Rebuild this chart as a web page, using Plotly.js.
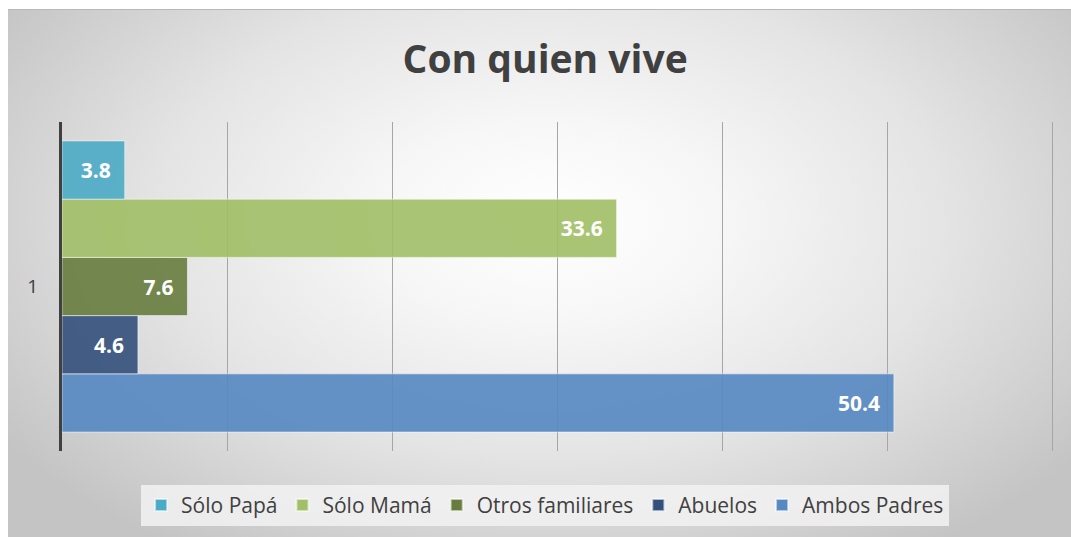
<!DOCTYPE html>
<html>
<head>
<meta charset="utf-8">
<script src="https://cdn.plot.ly/plotly-3.0.1.min.js"></script>
<style>
  html, body { margin:0; padding:0; background:#ffffff; }
  #bg { position:absolute; left:8px; top:9px; width:1063px; height:528px;
        background: radial-gradient(ellipse 62% 75% at 51% 40%, #ffffff 0%, #f7f7f7 25%, #e4e4e4 60%, #c4c4c4 100%);
        border-top:1px solid #b8b8b8; box-sizing:border-box; }
  #chart { position:absolute; left:0; top:0; width:1071px; height:537px; }
</style>
</head>
<body>
<div id="bg"></div>
<div id="chart"></div>
<script>
// Data (legend order)
const categories = ["1"];
const seriesNames = ["Sólo Papá", "Sólo Mamá", "Otros familiares", "Abuelos", "Ambos Padres"];
const seriesValues = [3.8, 33.6, 7.6, 4.6, 50.4];
const seriesColors = ["#4BABC5", "#A0BF66", "#677D3E", "#33507C", "#5688C2"];

// Plotly puts the first trace at the bottom for horizontal grouped bars,
// so add traces in reverse and reverse the legend order.
const traces = [];
for (let i = seriesNames.length - 1; i >= 0; i--) {
  traces.push({
    type: "bar",
    orientation: "h",
    name: seriesNames[i],
    y: categories,
    x: [seriesValues[i]],
    marker: { color: seriesColors[i], opacity: 0.9,
              line: { color: "rgba(255,255,255,0.55)", width: 1 } },
    text: [seriesValues[i].toFixed(1) + "&nbsp;&nbsp;"],
    textposition: "inside",
    insidetextanchor: "end",
    textangle: 0,
    constraintext: "none",
    textfont: { family: "Open Sans, sans-serif", size: 21, color: "#ffffff", weight: 700 },
    cliponaxis: false,
    hoverinfo: "x+name"
  });
}

const layout = {
  width: 1071, height: 537,
  paper_bgcolor: "rgba(0,0,0,0)",
  plot_bgcolor: "rgba(0,0,0,0)",
  margin: { l: 62, r: 17, t: 122, b: 85 },
  title: { text: "<b>Con quien vive</b>", x: 0.509, xanchor: "center", y: 0.889, yanchor: "middle",
           font: { family: "Open Sans, sans-serif", size: 39, color: "#404040" } },
  barmode: "group",
  bargap: 0.115,
  bargroupgap: 0,
  showlegend: true,
  legend: {
    orientation: "h", traceorder: "reversed",
    x: 0.487, xanchor: "center", y: -0.162, yanchor: "middle",
    bgcolor: "rgba(242,242,242,0.85)",
    font: { family: "Open Sans, sans-serif", size: 21, color: "#404040" },
    itemwidth: 30, itemsizing: "constant"
  },
  xaxis: {
    range: [0, 60.1], tick0: 0, dtick: 10, showticklabels: false,
    showgrid: true, gridcolor: "#a6a6a6", gridwidth: 1,
    zeroline: false, showline: false, ticks: "", fixedrange: true
  },
  yaxis: {
    type: "category", showline: true, linecolor: "#404040", linewidth: 3,
    ticks: "", ticklabelstandoff: 17,
    tickfont: { family: "Open Sans, sans-serif", size: 19, color: "#404040" },
    showgrid: false, zeroline: false, fixedrange: true
  },
  font: { family: "Open Sans, sans-serif" }
};

Plotly.newPlot("chart", traces, layout, { displayModeBar: false, staticPlot: true });
</script>
</body>
</html>
